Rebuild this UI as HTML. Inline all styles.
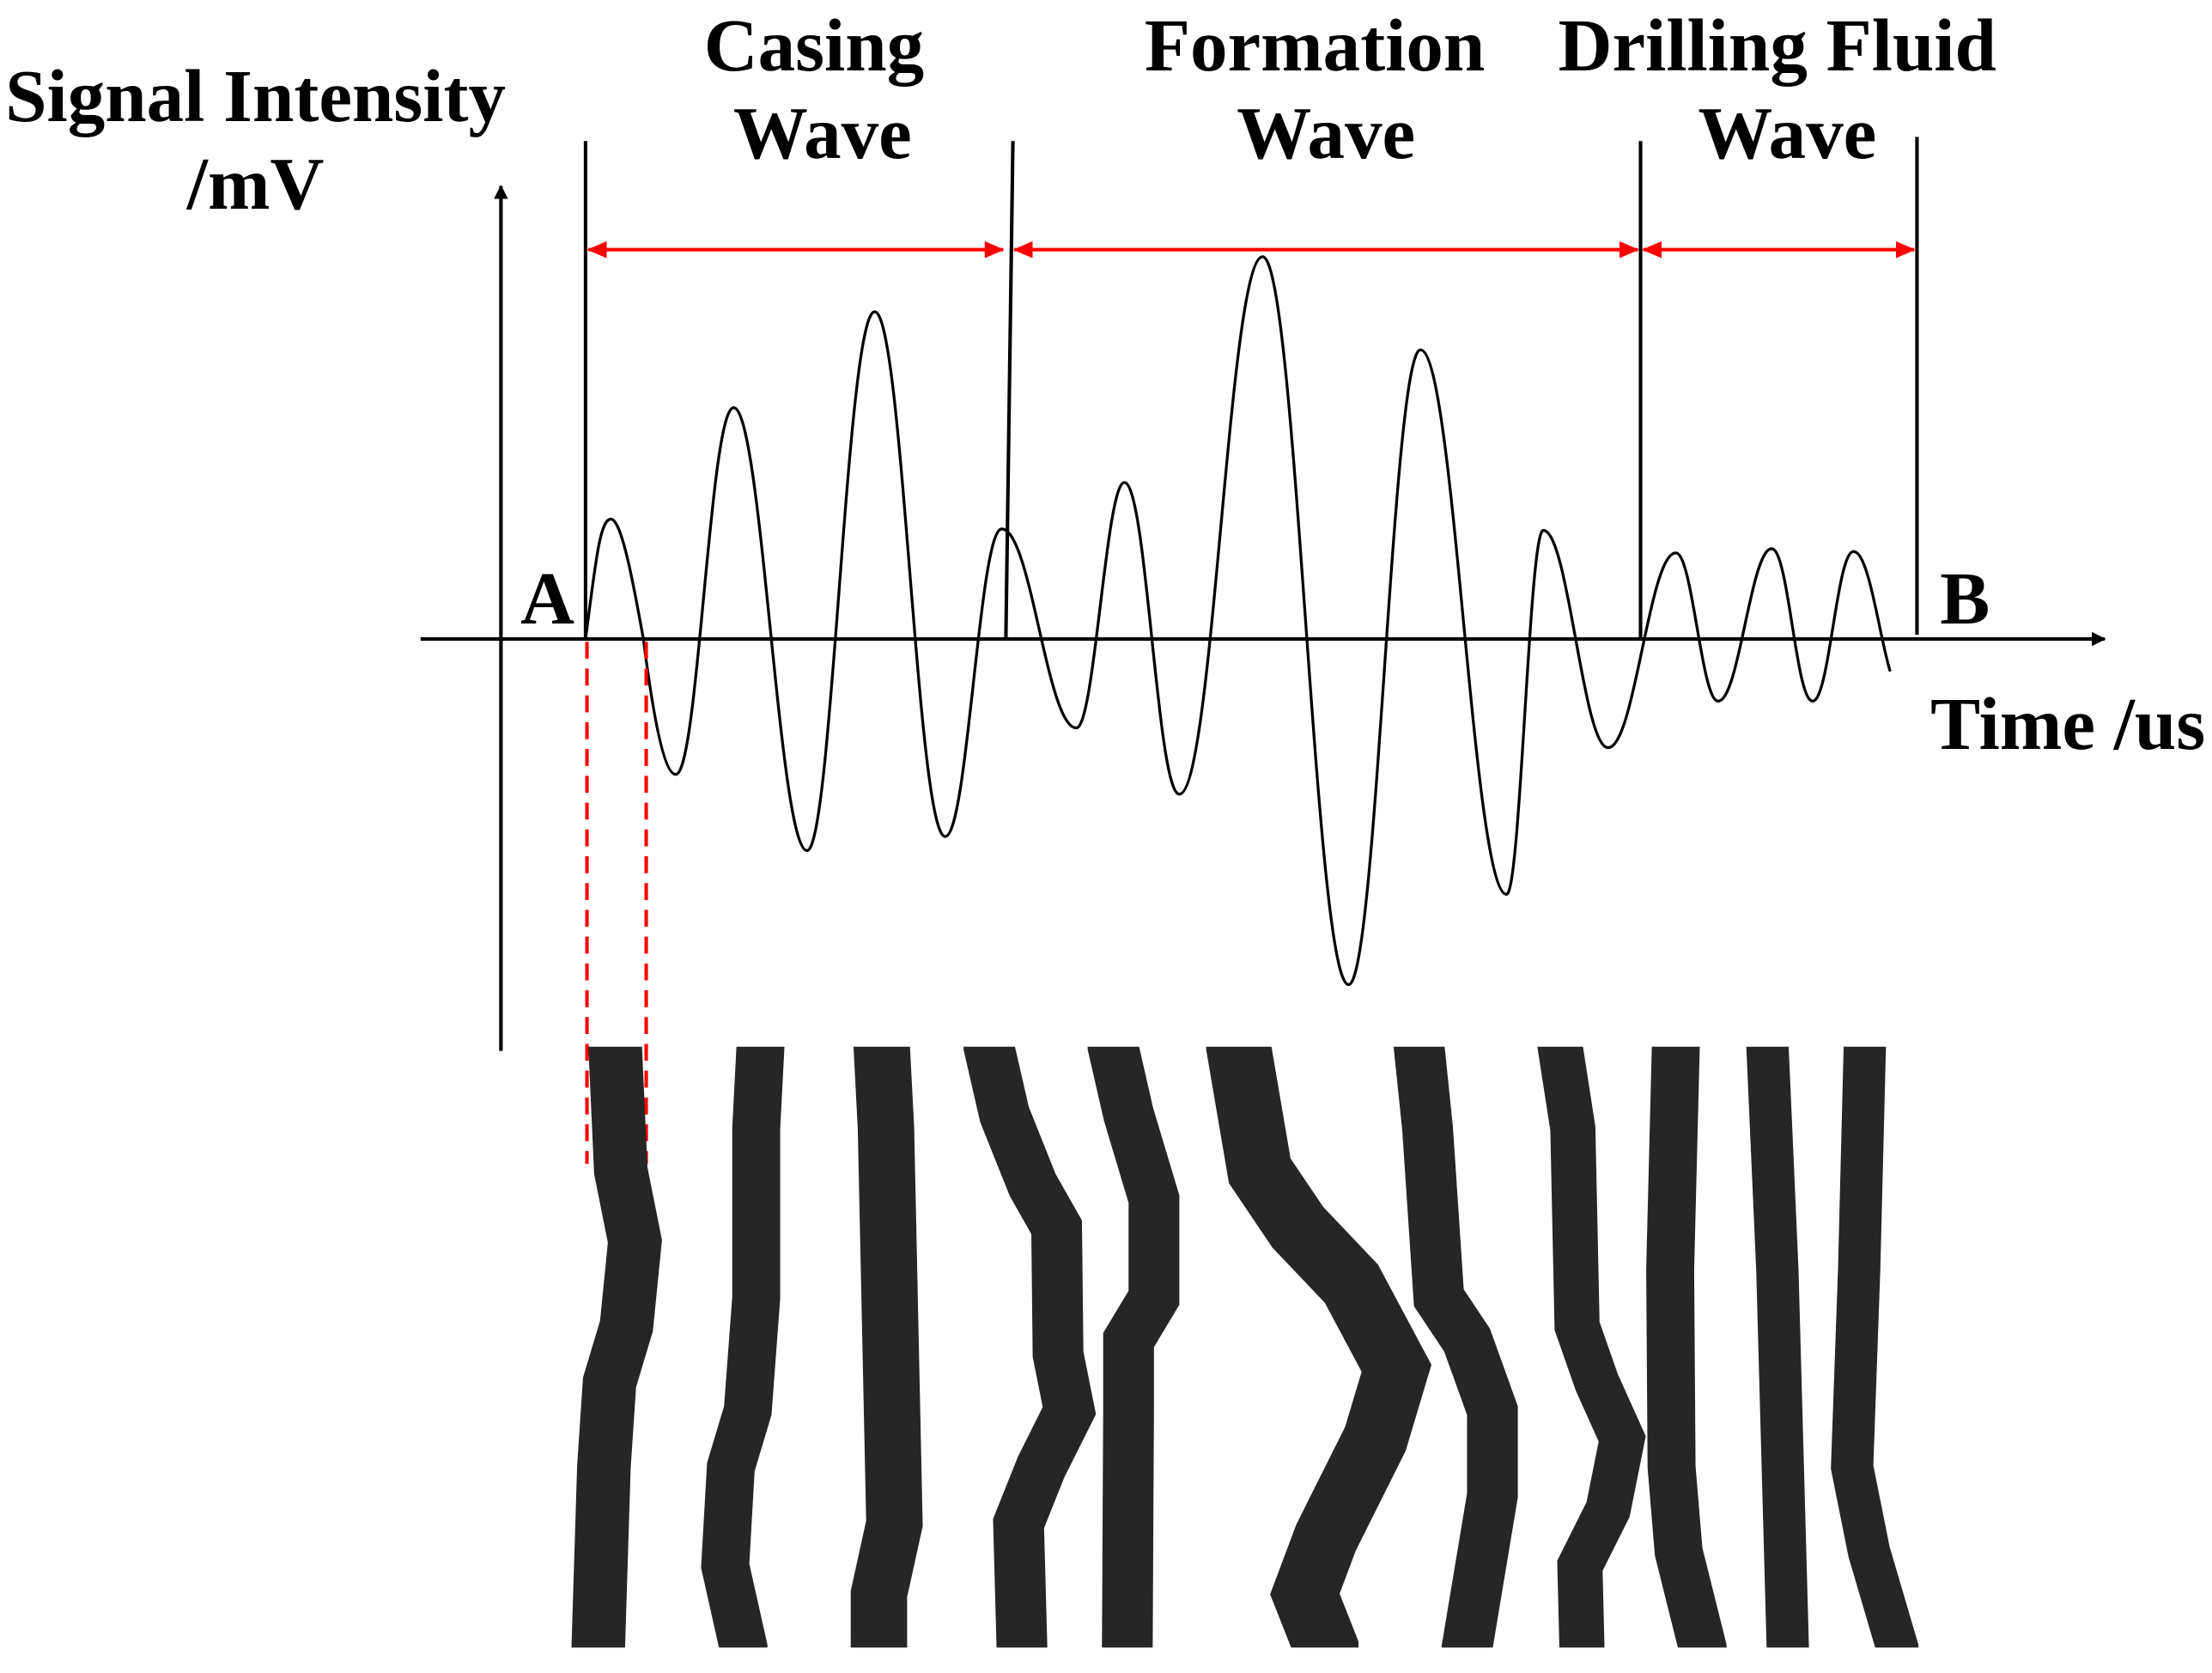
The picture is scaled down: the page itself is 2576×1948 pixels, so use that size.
<!DOCTYPE html>
<html><head><meta charset="utf-8"><style>html,body{margin:0;padding:0;background:#fff}svg{display:block}</style></head>
<body>
<svg width="2576" height="1948" viewBox="0 0 1568 1186" xmlns="http://www.w3.org/2000/svg">
<defs>
<marker id="ab" markerWidth="10" markerHeight="10" refX="9" refY="5" orient="auto" markerUnits="userSpaceOnUse"><path d="M0,0 L10,5 L0,10 z" fill="#000"/></marker>
<marker id="re" markerWidth="14" markerHeight="12" refX="13" refY="6" orient="auto" markerUnits="userSpaceOnUse"><path d="M0,0 L14,6 L0,12 z" fill="#f00"/></marker>
<marker id="rs" markerWidth="14" markerHeight="12" refX="1" refY="6" orient="auto" markerUnits="userSpaceOnUse"><path d="M14,0 L0,6 L14,12 z" fill="#f00"/></marker>
<clipPath id="cp"><rect x="380" y="742" width="1000" height="426"/></clipPath>
</defs>
<g font-family="'Liberation Serif', serif" font-weight="bold" font-size="53" text-anchor="middle" fill="#000">
<text x="181" y="86">Signal Intensity</text>
<text x="181" y="148">/mV</text>
<text x="577" y="50">Casing</text>
<text x="583" y="112">Wave</text>
<text x="932" y="50">Formation</text>
<text x="940" y="112">Wave</text>
<text x="1260" y="50">Drilling Fluid</text>
<text x="1267" y="112">Wave</text>
<text x="388" y="442">A</text>
<text x="1393" y="442">B</text>
<text x="1466" y="531">Time /us</text>
</g>
<g stroke="#000" stroke-width="2.5" fill="none">
<line x1="355" y1="745" x2="355" y2="132" marker-end="url(#ab)"/>
<line x1="298" y1="453" x2="1492" y2="453" marker-end="url(#ab)"/>
<line x1="415" y1="100" x2="415" y2="453"/>
<line x1="718" y1="100" x2="713" y2="453"/>
<line x1="1163" y1="100" x2="1163" y2="453"/>
<line x1="1359" y1="97" x2="1359" y2="450"/>
<path stroke-width="2" d="M415,453 C422,400 425,368 433,368 C441,368 450,420 456,453 C462,500 470,549 479,549 C495,549 503,289 520,289 C540,289 552,603 572,603 C590,603 600,221 620,221 C640,221 650,593 670,593 C686,593 694,375 710,375 C731,375 742,516 763,516 C776,516 784,342 797,342 C813,342 820,563 836,563 C860,563 871,182 895,182 C919,182 932,698 956,698 C976,698 987,248 1007,248 C1031,248 1044,634 1068,634 C1078,634 1084,376 1094,376 C1112,376 1122,530 1140,530 C1159,530 1169,392 1188,392 C1200,392 1206,497 1218,497 C1233,497 1241,389 1256,389 C1268,389 1273,497 1285,497 C1297,497 1302,391 1314,391 C1325,391 1332,450 1340,476"/>
</g>
<g stroke="#f00" stroke-width="2.5">
<line x1="417" y1="177" x2="711" y2="177" marker-end="url(#re)" marker-start="url(#rs)"/>
<line x1="719" y1="177" x2="1161" y2="177" marker-end="url(#re)" marker-start="url(#rs)"/>
<line x1="1165" y1="177" x2="1357" y2="177" marker-end="url(#re)" marker-start="url(#rs)"/>
<line x1="416" y1="455" x2="416" y2="825" stroke-dasharray="12,7"/>
<line x1="458" y1="455" x2="458" y2="825" stroke-dasharray="12,7"/>
</g>
<g stroke="#262626" fill="none" stroke-linejoin="miter" stroke-linecap="butt" clip-path="url(#cp)">
<polyline stroke-width="38" points="436,720 436,742 440,830 450,880 444,940 432,980 428,1040 424,1168 424,1190"/>
<polyline stroke-width="34" points="539,720 539,742 536,800 536,920 530,1000 518,1040 514,1110 527,1168 527,1190"/>
<polyline stroke-width="40" points="625,720 625,742 628,800 634,1080 623,1130 623,1190"/>
<polyline stroke-width="36" points="701,720 701,742 712,790 732,840 749,870 750,960 758,1000 738,1040 722,1080 725,1190"/>
<polyline stroke-width="36" points="789,720 789,742 800,790 818,850 818,920 800,950 800,1000 799,1190"/>
<polyline stroke-width="46" points="878,720 878,742 893,830 920,870 958,910 990,970 975,1020 940,1090 925,1130 940,1168 940,1190"/>
<polyline stroke-width="36" points="1006,720 1006,742 1012,800 1020,920 1040,950 1058,1000 1058,1060 1040,1168 1040,1190"/>
<polyline stroke-width="32" points="1106,720 1106,742 1115,800 1118,940 1132,980 1150,1020 1140,1070 1120,1110 1122,1190"/>
<polyline stroke-width="34" points="1188,720 1188,742 1184,900 1185,1040 1190,1100 1207,1168 1207,1190"/>
<polyline stroke-width="30" points="1253,720 1253,742 1260,900 1268,1190"/>
<polyline stroke-width="30" points="1322,720 1322,742 1318,900 1313,1040 1325,1100 1345,1168 1345,1190"/>
</g>
</svg>
</body></html>
